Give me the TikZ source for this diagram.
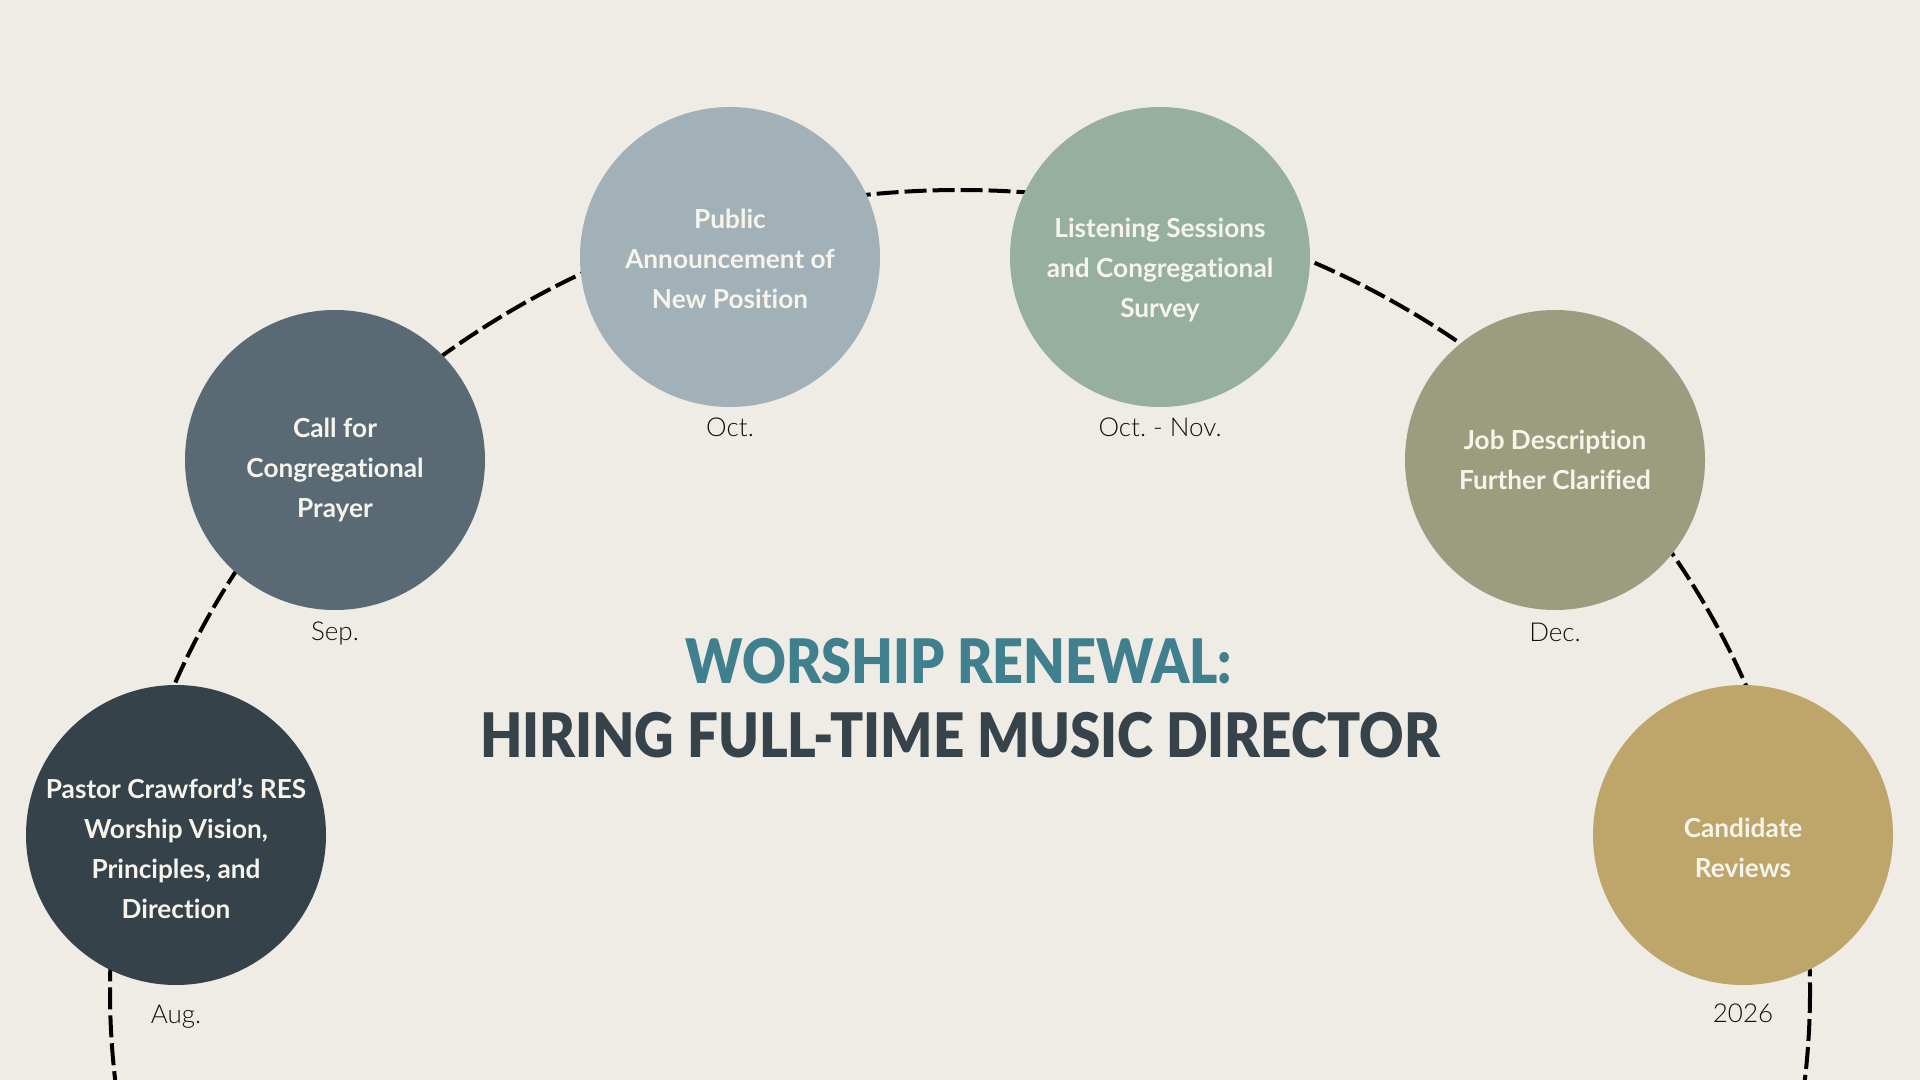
\documentclass[tikz,border=0pt]{standalone}
\usepackage{fontspec}
\usepackage{graphicx}
\setmainfont{Lato}[Ligatures=NoCommon]
\IfFontExistsTF{Lato Black}{\newfontfamily\titlefont{Lato Black}[Ligatures=NoCommon]}{\newcommand\titlefont{\bfseries}}
\IfFontExistsTF{Lato Light}{\newfontfamily\datefont{Lato Light}[Ligatures=NoCommon]}{\newcommand\datefont{\normalfont}}
\definecolor{bgcol}{HTML}{EFECE5}
\definecolor{cA}{HTML}{36424A}
\definecolor{cB}{HTML}{5A6A75}
\definecolor{cC}{HTML}{A2B1B7}
\definecolor{cD}{HTML}{97AFA0}
\definecolor{cE}{HTML}{9A9E7E}
\definecolor{cF}{HTML}{BEA56A}
\definecolor{tealcol}{HTML}{3F7F8E}
\definecolor{slatecol}{HTML}{37434B}
\definecolor{creamcol}{HTML}{F7F4EC}
\definecolor{datecol}{HTML}{111111}
\frenchspacing
\begin{document}
\begin{tikzpicture}[x=0.5pt,y=-0.5pt,
  stage/.style={circle, minimum size=150pt, inner sep=0pt, draw=none},
  stagetext/.style={text=creamcol, align=center, inner sep=0pt, font=\bfseries\fontsize{13.1}{20}\selectfont},
  datelabel/.style={anchor=base, inner sep=0pt, text=datecol, font=\datefont\fontsize{13}{15}\selectfont},
  arcline/.style={line width=2pt, dash pattern=on 11pt off 3pt, draw=black},
  titleline/.style={anchor=base, inner sep=0pt, font=\titlefont\fontsize{30.7}{36}\selectfont}]
\fill[bgcol] (0,0) rectangle (1920,1080);
\useasboundingbox (0,0) rectangle (1920,1080);
\clip (0,0) rectangle (1920,1080);
% dashed timeline arc
\draw[arcline] (960,991) ellipse [x radius=850, y radius=801];
% stages
\node[stage, fill=cA] (s1) at (176,835) {};
\node[stage, fill=cB] (s2) at (335,460) {};
\node[stage, fill=cC] (s3) at (730,257) {};
\node[stage, fill=cD] (s4) at (1160,257) {};
\node[stage, fill=cE] (s5) at (1555,460) {};
\node[stage, fill=cF] (s6) at (1743,835) {};
\node[stagetext] (t1) at (176,848) {Pastor Crawford’s RES\\Worship Vision,\\Principles, and\\Direction};
\node[stagetext] (t2) at (335,470) {Call for\\Congregational\\Prayer};
\node[stagetext] (t3) at (730,259) {Public\\Announcement of\\New Position};
\node[stagetext] (t4) at (1160,270) {Listening Sessions\\and Congregational\\Survey};
\node[stagetext] (t5) at (1555,460) {Job Description\\Further Clarified};
\node[stagetext] (t6) at (1743,848) {Candidate\\Reviews};
% dates
\node[datelabel] (d1) at (176,1023) {Aug.};
\node[datelabel] (d2) at (335,640) {Sep.};
\node[datelabel] (d3) at (730,436) {Oct.};
\node[datelabel] (d4) at (1160,436) {Oct. - Nov.};
\node[datelabel] (d5) at (1555,641) {Dec.};
\node[datelabel] (d6) at (1743,1022) {2026};
% title
\node[titleline, text=tealcol] (title1) at (959,683) {\resizebox{273pt}{\height}{WORSHIP RENEWAL:}};
\node[titleline, text=slatecol] (title2) at (960,757) {\resizebox{480pt}{\height}{HIRING FULL-TIME MUSIC DIRECTOR}};
\end{tikzpicture}
\end{document}
